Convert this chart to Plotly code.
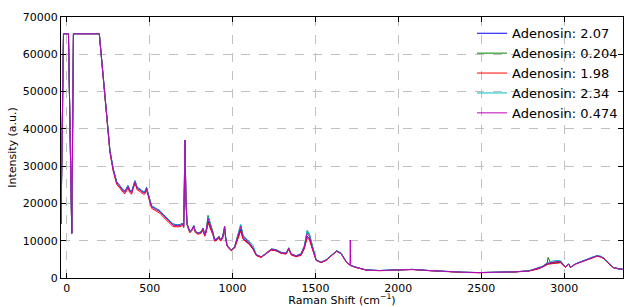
import plotly.graph_objects as go

# Raman shift grid (cm^-1)
shift = [
    -35, -20, 10, 30, 40, 196, 230, 260, 280, 301,
    320, 340, 351, 369, 380, 391, 411, 425, 441, 460,
    471, 481, 490, 511, 540, 561, 581, 601, 621, 641,
    670, 692, 700, 705, 710, 713, 718, 725, 742, 755,
    766, 775, 792, 812, 822, 832, 842, 852, 862, 872,
    882, 892, 905, 918, 928, 940, 952, 958, 966, 980,
    993, 1013, 1033, 1049, 1063, 1083, 1103, 1123, 1143, 1173,
    1203, 1233, 1263, 1293, 1323, 1339, 1353, 1383, 1413, 1433,
    1450, 1464, 1480, 1504, 1534, 1564, 1600, 1628, 1654, 1685,
    1708, 1710, 1712, 1735, 1805, 1885, 2000, 2085, 2186, 2286,
    2386, 2486, 2600, 2700, 2787, 2840, 2867, 2897, 2903, 2920,
    2948, 2978, 2995, 3008, 3028, 3038, 3068, 3100, 3129, 3160,
    3198, 3220, 3239, 3255, 3269, 3285, 3299, 3330, 3355,
]

adenosin_2_07 = [
    14500, 65500, 65500, 12000, 65500, 65500, 49000, 34300, 29300, 25800,
    24800, 23600, 23300, 24800, 23600, 23200, 26100, 24300, 23900, 23200,
    23200, 24300, 22800, 19400, 18600, 18100, 17100, 16300, 15300, 14500,
    14200, 14400, 14600, 13900, 25000, 37000, 22000, 14600, 12500, 13100,
    14000, 12500, 12000, 12300, 13100, 11300, 12600, 15200, 14000, 13000,
    11700, 10000, 10300, 10900, 10000, 10800, 13400, 10800, 8700, 7900,
    7400, 8200, 11000, 13000, 10600, 9800, 9000, 7800, 6100, 5600,
    6500, 7500, 7300, 6700, 6500, 7800, 6300, 5800, 6200, 8000,
    11200, 10500, 8100, 4800, 4200, 4800, 6200, 7300, 6700, 4400,
    3500, 3600, 3400, 3000, 2150, 2000, 2100, 2300, 2000, 1700,
    1550, 1450, 1500, 1650, 1900, 2400, 2900, 3700, 3800, 3900,
    4100, 4200, 3400, 3000, 3700, 2900, 3800, 4400, 4900, 5400,
    6000, 5800, 5300, 4600, 3900, 3200, 2760, 2400, 2300,
]

adenosin_0_204 = [
    14500, 65500, 65500, 12000, 65500, 65500, 48800, 34100, 29100, 25600,
    24600, 23400, 23100, 24600, 23400, 23000, 25900, 24100, 23700, 23000,
    23000, 24100, 22600, 19200, 18400, 17900, 16900, 16100, 15100, 14300,
    14100, 14300, 14500, 13800, 25000, 37000, 22000, 14500, 12400, 13000,
    14000, 12500, 12000, 12500, 13400, 11600, 13200, 16800, 15200, 13800,
    12200, 10300, 10600, 11200, 10300, 11100, 13900, 11100, 8900, 8000,
    7500, 8500, 11800, 14200, 11300, 10400, 9400, 8100, 6200, 5700,
    6600, 7800, 7600, 6900, 6700, 8100, 6500, 5900, 6500, 8600,
    12600, 11600, 8700, 4900, 4200, 4800, 6200, 7200, 6600, 4400,
    3500, 3500, 3400, 3000, 2150, 2000, 2100, 2300, 2000, 1700,
    1550, 1450, 1500, 1650, 1900, 2500, 3000, 3800, 5500, 4000,
    4300, 4300, 3500, 3000, 3750, 2870, 3750, 4300, 4800, 5300,
    5900, 5700, 5300, 4600, 3900, 3200, 2760, 2400, 2300,
]

adenosin_1_98 = [
    14500, 65500, 65500, 12000, 65500, 65500, 48600, 33600, 28600, 25100,
    24100, 22900, 22600, 24100, 22900, 22500, 25400, 23600, 23200, 22500,
    22500, 23600, 22100, 18700, 17900, 17400, 16400, 15600, 14600, 13800,
    13700, 13900, 14200, 13500, 24800, 36800, 21800, 14200, 12100, 12700,
    13700, 12200, 11700, 12100, 12900, 11200, 12400, 14800, 13700, 12700,
    11500, 9900, 10100, 10700, 9900, 10600, 13200, 10600, 8600, 7800,
    7300, 8100, 10900, 12600, 10400, 9600, 8900, 7700, 6000, 5500,
    6400, 7500, 7300, 6600, 6400, 7700, 6200, 5700, 6100, 7900,
    10800, 10200, 7900, 4700, 4100, 4700, 6100, 7100, 6500, 4300,
    3400, 3400, 3300, 2900, 2100, 1950, 2050, 2250, 1950, 1650,
    1500, 1400, 1450, 1600, 1850, 2400, 2900, 3600, 3700, 3800,
    3900, 4100, 3300, 2900, 3650, 2800, 3700, 4200, 4700, 5200,
    5800, 5600, 5200, 4500, 3800, 3100, 2700, 2350, 2250,
]

adenosin_2_34 = [
    14500, 65500, 65500, 12000, 65500, 65500, 48900, 34200, 29200, 25700,
    24700, 23500, 23200, 24700, 23500, 23100, 26000, 24200, 23800, 23100,
    23100, 24200, 22700, 19300, 18500, 18000, 17000, 16200, 15200, 14400,
    14100, 14300, 14500, 13800, 25000, 37000, 22000, 14500, 12400, 13000,
    14000, 12500, 12000, 12500, 13400, 11600, 13100, 16500, 15000, 13700,
    12100, 10200, 10500, 11100, 10200, 11000, 13800, 11000, 8900, 8000,
    7500, 8500, 11800, 14400, 11400, 10500, 9500, 8800, 6300, 5700,
    6600, 7800, 7600, 6900, 6700, 8100, 6500, 6000, 6500, 8700,
    12800, 11800, 8800, 4900, 4300, 4900, 6300, 7300, 6700, 4500,
    3500, 3500, 3400, 3000, 2150, 2000, 2100, 2300, 2000, 1700,
    1550, 1450, 1500, 1650, 1950, 2600, 3100, 4100, 4200, 4400,
    4700, 4700, 3700, 3100, 3800, 2950, 3800, 4400, 4900, 5400,
    6000, 5800, 5400, 4700, 4000, 3300, 2800, 2450, 2350,
]

adenosin_0_474 = [
    14500, 65500, 65500, 12000, 65500, 65500, 48900, 34000, 29000, 25500,
    24500, 23300, 23000, 24500, 23300, 22900, 25800, 24000, 23600, 22900,
    22900, 24000, 22500, 19100, 18300, 17800, 16800, 16000, 15000, 14200,
    14000, 14200, 14500, 13800, 25000, 37000, 22000, 14500, 12400, 13000,
    14000, 12500, 12000, 12400, 13300, 11500, 13000, 16000, 14700, 13500,
    12000, 10200, 10500, 11100, 10200, 11000, 13800, 11000, 8850, 8000,
    7500, 8400, 11500, 13800, 11100, 10200, 9300, 8000, 6200, 5700,
    6600, 7700, 7500, 6800, 6600, 8000, 6400, 5900, 6400, 8400,
    12000, 11100, 8400, 4800, 4200, 4800, 6200, 7200, 6600, 4400,
    3500, 10200, 3400, 3000, 2150, 2000, 2100, 2300, 2000, 1700,
    1550, 1450, 1500, 1650, 1900, 2500, 3000, 3900, 4000, 4100,
    4400, 4400, 3500, 3000, 3750, 2870, 3750, 4300, 4800, 5300,
    5900, 5700, 5300, 4600, 3900, 3200, 2760, 2400, 2300,
]

series_names = ["Adenosin: 2.07", "Adenosin: 0.204", "Adenosin: 1.98",
                "Adenosin: 2.34", "Adenosin: 0.474"]
series_values = [adenosin_2_07, adenosin_0_204, adenosin_1_98,
                 adenosin_2_34, adenosin_0_474]
series_colors = ["#0000ff", "#008000", "#ff0000", "#00bfbf", "#bf00bf"]

x_ticks = [0, 500, 1000, 1500, 2000, 2500, 3000]
y_ticks = [0, 10000, 20000, 30000, 40000, 50000, 60000, 70000]

fig = go.Figure()
for name, vals, col in zip(series_names, series_values, series_colors):
    fig.add_trace(go.Scatter(x=shift, y=vals, mode="lines", name=name,
                             line=dict(color=col, width=1)))

font_family = "DejaVu Sans"
axis_common = dict(
    showline=True, linecolor="black", linewidth=1, mirror="allticks",
    ticks="inside", ticklen=5, tickcolor="black", tickwidth=1,
    showgrid=True, gridcolor="#c0c0c0", griddash="dash", gridwidth=1,
    zeroline=False, automargin=False,
    tickfont=dict(family=font_family, size=11, color="black"),
)

fig.update_layout(
    width=624, height=307,
    margin=dict(l=61, r=1, t=17, b=29, autoexpand=False),
    paper_bgcolor="white", plot_bgcolor="white",
    font=dict(family=font_family, color="black"),
    xaxis=dict(range=[-35, 3355], tickvals=x_ticks,
               ticktext=[str(v) for v in x_ticks],
               title=dict(text="Raman Shift (cm<sup>−1</sup>)",
                          font=dict(size=11), standoff=3),
               **axis_common),
    yaxis=dict(range=[0, 70000], tickvals=y_ticks,
               ticktext=[str(v) for v in y_ticks],
               title=dict(text="Intensity (a.u.)", font=dict(size=11),
                          standoff=3),
               **axis_common),
    legend=dict(x=1.0, y=0.995, xanchor="right", yanchor="top",
                bgcolor="rgba(0,0,0,0)", font=dict(size=13),
                itemwidth=30, tracegroupgap=0),
    showlegend=True,
)

fig.write_html("out.html",
               config={"displayModeBar": False},
               post_script="document.body.style.margin='0';"
                           "document.body.style.overflow='hidden';")
